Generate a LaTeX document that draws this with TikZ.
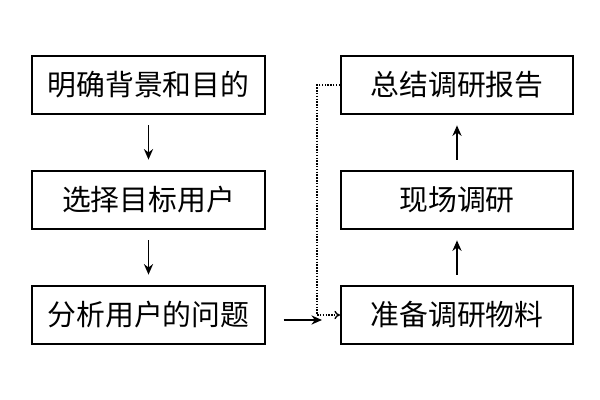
\documentclass[tikz,border=0pt]{standalone}
\usepackage{fontspec}
\usetikzlibrary{arrows.meta}
\setmainfont{Noto Sans CJK SC}
\tikzset{
	stepbox/.style={draw, line width=1.4pt, minimum width=5.8cm, minimum height=1.47cm, inner sep=0pt, font=\fontsize{20.5}{24}\selectfont},
	arr/.style={line width=1.2pt, -{Stealth[length=7.5pt,width=6.5pt]}, shorten <=0.25cm, shorten >=0.25cm}
}
\begin{document}
\begin{tikzpicture}[x=0.025cm, y=-0.025cm]
		\useasboundingbox (0,0) rectangle (600,400);
		\node[stepbox] (a1) at (148.5,85){明确背景和目的};
		\node[stepbox] (a2) at (148.5,200){选择目标用户};
		\node[stepbox] (a3) at (148.5,315){分析用户的问题};
		\node[stepbox] (b1) at (457,85){总结调研报告};
		\node[stepbox] (b2) at (457,200){现场调研};
		\node[stepbox] (b3) at (457,315){准备调研物料};
		\draw[arr] (a1) -- (a2);
		\draw[arr] (a2) -- (a3);
		\draw[arr] (b3) -- (b2);
		\draw[arr] (b2) -- (b1);
		\draw[arr, shorten <=0.45cm, shorten >=0.45cm] ([yshift=-0.125cm]a3.east) -- ([yshift=-0.125cm]b3.west);
		\draw[line width=1pt, densely dotted, -{To[length=4pt,width=6pt]}] (b1.west) -- ++(-23,0) |- (b3.west);
		\end{tikzpicture}
\end{document}
